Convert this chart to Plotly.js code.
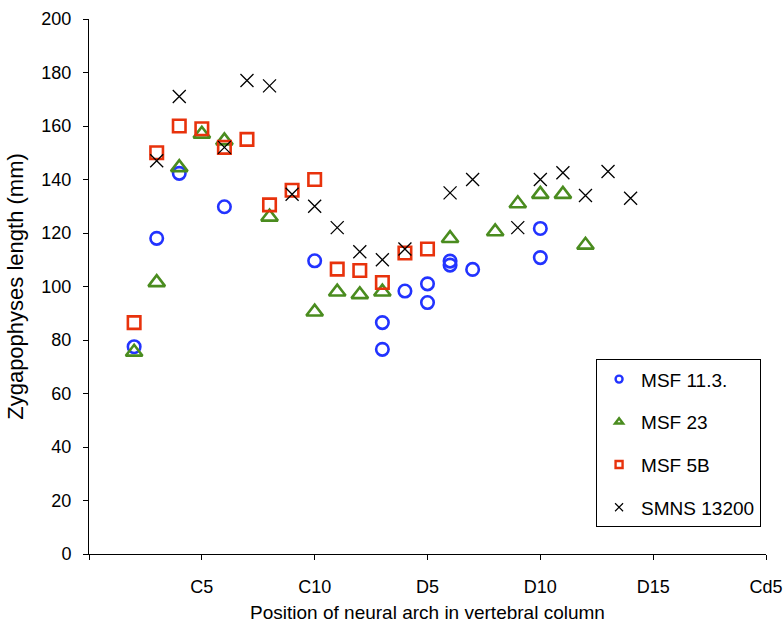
<!DOCTYPE html>
<html>
<head>
<meta charset="utf-8">
<script src="https://cdn.plot.ly/plotly-3.0.1.min.js"></script>
<style>html,body{margin:0;padding:0;background:#fff;}#chart{width:784px;height:628px;}</style>
</head>
<body>
<div id="chart"></div>
<script>
// Position index: C1..C10 = 1..10, D1..D15 = 11..25, Cd1.. = 26..
const tickPositions = [0, 5, 10, 15, 20, 25, 30];
const tickLabels = ['', 'C5', 'C10', 'D5', 'D10', 'D15', 'Cd5'];

const msf113X = [2, 3, 4, 6, 10, 13, 13, 14, 15, 15, 16, 16, 17, 20, 20];
const msf113Y = [77.5, 118, 142.3, 129.8, 109.6, 86.5, 76.5, 98.3, 101, 94, 108, 109.5, 106.4, 121.7, 110.8];

const msf23X = [2, 3, 4, 5, 6, 8, 10, 11, 12, 13, 16, 18, 19, 20, 21, 22];
const msf23Y = [75.5, 101.5, 144.5, 157, 154.5, 126, 90.5, 98, 97, 98, 118, 120.5, 131, 134.5, 134.5, 115.5];

const msf5bX = [2, 3, 4, 5, 6, 7, 8, 9, 10, 11, 12, 13, 14, 15];
const msf5bY = [86.5, 150, 160, 159, 152, 155, 130.5, 136, 140, 106.5, 106, 101.5, 112.5, 114];

const smnsX = [3, 4, 6, 7, 8, 9, 10, 11, 12, 13, 14, 16, 17, 19, 20, 21, 22, 23, 24];
const smnsY = [147, 171, 152, 177, 175, 134.5, 130, 122, 113, 110, 114, 135, 140, 122, 140, 142.5, 134, 143, 133];

const names = ['MSF 11.3.', 'MSF 23', 'MSF 5B', 'SMNS 13200'];
const colors = ['#2233ff', '#4a8c1f', '#e8320c', '#000000'];
const symbols = ['circle-open', 'triangle-up-open', 'square-open', 'x-thin-open'];
const sizes = [12.5, 14.5, 12.5, 13];
const widths = [2.6, 2.6, 2.6, 1.3];
const xs = [msf113X, msf23X, msf5bX, smnsX];
const ys = [msf113Y, msf23Y, msf5bY, smnsY];

const FONT = 'Liberation Sans, Arial, Helvetica, sans-serif';
const traces = [];
for (let i = 0; i < 4; i++) {
  traces.push({
    type: 'scatter', mode: 'markers', x: xs[i], y: ys[i], name: names[i],
    showlegend: false, cliponaxis: false,
    marker: {symbol: symbols[i], size: sizes[i], color: colors[i], line: {color: colors[i], width: widths[i]}}
  });
}
// legend entries with smaller symbols
for (let i = 0; i < 4; i++) {
  traces.push({
    type: 'scatter', mode: 'markers', x: [null], y: [null], name: names[i],
    legendgroup: 'g' + i, showlegend: true,
    marker: {symbol: symbols[i], size: i === 3 ? 8 : 7, color: colors[i], line: {color: colors[i], width: i === 3 ? 1.2 : 2.4}}
  });
}

const layout = {
  width: 784, height: 628,
  margin: {l: 89, r: 18, t: 19, b: 74},
  paper_bgcolor: '#ffffff', plot_bgcolor: '#ffffff',
  font: {family: FONT, size: 18, color: '#000'},
  showlegend: true,
  xaxis: {
    range: [0, 30.0001], tickmode: 'array', tickvals: tickPositions, ticktext: tickLabels,
    showgrid: false, zeroline: false, showline: true, linecolor: '#000', linewidth: 1,
    ticks: 'outside', ticklen: 5, tickcolor: '#000', ticklabelstandoff: 11,
    ticklabeloverflow: 'allow',
    tickfont: {family: FONT, size: 18, color: '#000'},
    title: {text: 'Position of neural arch in vertebral column', font: {family: FONT, size: 19, color: '#000'}, standoff: 10}
  },
  yaxis: {
    range: [0, 200], dtick: 20, tick0: 0,
    showgrid: false, zeroline: false, showline: true, linecolor: '#000', linewidth: 1,
    ticks: 'outside', ticklen: 5, tickcolor: '#000', ticklabelstandoff: 8,
    tickfont: {family: FONT, size: 18, color: '#000'},
    title: {text: 'Zygapophyses length (mm)', font: {family: FONT, size: 22, color: '#000'}, standoff: 11}
  },
  legend: {
    x: 0.749, y: 0.364, xanchor: 'left', yanchor: 'top',
    bgcolor: '#ffffff', bordercolor: '#000', borderwidth: 1,
    font: {family: FONT, size: 19, color: '#000'},
    traceorder: 'grouped', tracegroupgap: 15, itemwidth: 34
  }
};

Plotly.newPlot('chart', traces, layout, {displayModeBar: false, staticPlot: true});
</script>
</body>
</html>
